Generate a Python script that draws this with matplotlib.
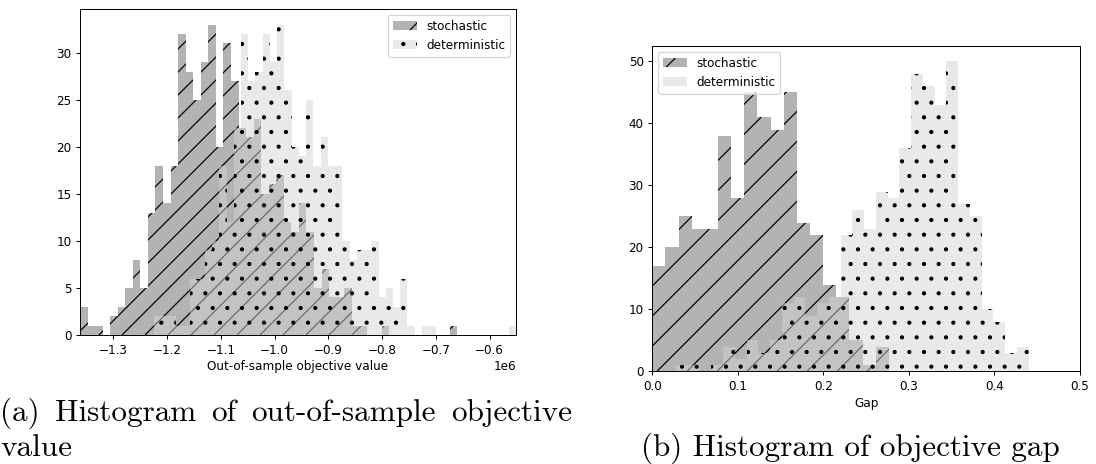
import numpy as np
import matplotlib
matplotlib.use("Agg")
import matplotlib.pyplot as plt
from matplotlib.patches import Patch
from matplotlib.collections import LineCollection

# ---------------- data ----------------
# (a) out-of-sample objective value
obj_stoch_range = (-1.362e6, -0.660e6)
obj_stoch_counts = [3, 1, 1, 0, 2, 3, 5, 8, 5, 13,
                    18, 14, 18, 32, 28, 25, 29, 33, 20, 31,
                    27, 22, 21, 23, 15, 16, 17, 12, 11, 14,
                    11, 5, 7, 4, 4, 5, 1, 1, 0, 0,
                    1, 0, 0, 0, 0, 0, 0, 0, 0, 1]
obj_det_range = (-1.224e6, -0.551e6)
obj_det_counts = [2, 2, 2, 1, 1, 6, 6, 9, 10, 18,
                  12, 22, 32, 27, 28, 32, 29, 33, 26, 20,
                  19, 25, 18, 21, 18, 18, 10, 8, 9, 9,
                  10, 4, 5, 3, 6, 1, 0, 1, 1, 0,
                  0, 0, 0, 0, 0, 0, 0, 0, 0, 1]

# (b) objective gap
gap_stoch_range = (0.0, 0.2765)
gap_stoch_counts = [17, 20, 25, 23, 23, 38, 28, 45, 41, 39,
                    45, 24, 22, 14, 12, 5, 1, 4]
gap_det_range = (0.0277, 0.440)
gap_det_counts = [1, 1, 0, 1, 4, 2, 5, 3, 5, 11,
                  12, 9, 11, 12, 22, 26, 23, 29, 28, 36,
                  48, 46, 43, 50, 27, 25, 10, 8, 3, 4]

series_labels = ["stochastic", "deterministic"]
xlabel_a = "Out-of-sample objective value"
xlabel_b = "Gap"
caption_a1 = ["(a)", "Histogram", "of", "out-of-sample", "objective"]
caption_a2 = "value"
caption_b = "(b) Histogram of objective gap"

# ---------------- style ----------------
W, H = 1096, 464
DPI = 88
plt.rcParams['font.family'] = ['DejaVu Sans']
plt.rcParams['font.size'] = 9.8
plt.rcParams['hatch.linewidth'] = 1.0

STOCH_FACE = '#b3b3b3'
DET_FACE = (0.83, 0.83, 0.83, 0.5)

fig = plt.figure(figsize=(W / DPI, H / DPI), dpi=DPI)


def edges(rng, counts):
    return np.linspace(rng[0], rng[1], len(counts) + 1)


def diagonal_hatch(ax, patch, spacing_px, ax_w_px, ax_h_px):
    """Sparse '/' hatching clipped to the histogram patch (style only)."""
    dx = ax_h_px / ax_w_px          # 45 degree lines in pixel space
    step = spacing_px / ax_w_px
    offs = np.arange(-dx, 1 + step, step)
    segs = [[(o, 0), (o + dx, 1)] for o in offs]
    lc = LineCollection(segs, colors='black', linewidths=1.0,
                        transform=ax.transAxes, zorder=1.5)
    ax.add_collection(lc)
    lc.set_clip_path(patch)


def draw(ax, s_rng, s_counts, d_rng, d_counts, spacing, ax_w, ax_h):
    se = edges(s_rng, s_counts)
    de = edges(d_rng, d_counts)
    _, _, sp = ax.hist(0.5 * (se[:-1] + se[1:]), bins=se, weights=s_counts,
                       histtype='stepfilled', facecolor=STOCH_FACE,
                       linewidth=0, zorder=1)
    diagonal_hatch(ax, sp[0], spacing, ax_w, ax_h)
    ax.hist(0.5 * (de[:-1] + de[1:]), bins=de, weights=d_counts,
            histtype='stepfilled', facecolor=DET_FACE, edgecolor='black',
            linewidth=0, hatch='.', zorder=2)


handles = [Patch(facecolor=STOCH_FACE, edgecolor='black', linewidth=0, hatch='/',
                 label=series_labels[0]),
           Patch(facecolor=DET_FACE, edgecolor='black', linewidth=0, hatch='.',
                 label=series_labels[1])]

# (a)
axa = fig.add_axes([80 / W, 1 - 335 / H, 436 / W, 326 / H])
draw(axa, obj_stoch_range, obj_stoch_counts, obj_det_range, obj_det_counts,
     23, 436, 326)
axa.set_xlim(obj_stoch_range[0], obj_det_range[1])
axa.set_ylim(0, 34.65)
axa.set_yticks([0, 5, 10, 15, 20, 25, 30])
axa.set_xticks(np.array([-1.3, -1.2, -1.1, -1.0, -0.9, -0.8, -0.7, -0.6]) * 1e6)
axa.set_xlabel(xlabel_a, labelpad=3)
axa.legend(handles=handles, loc='upper right', framealpha=0.8)

# (b)
axb = fig.add_axes([652.3 / W, 1 - 371.3 / H, 427.7 / W, 325.3 / H])
draw(axb, gap_stoch_range, gap_stoch_counts, gap_det_range, gap_det_counts,
     30, 427.7, 325.3)
axb.set_xlim(0, 0.5)
axb.set_ylim(0, 52.5)
axb.set_yticks([0, 10, 20, 30, 40, 50])
axb.set_xlabel(xlabel_b, labelpad=3)
axb.legend(handles=handles, loc='upper left', framealpha=0.8)

# captions (first line justified like LaTeX)
cap_font = dict(family='cmr10', fontsize=25.5, va='baseline', ha='left')
renderer = fig.canvas.get_renderer()
words = [fig.text(0, 1 - 421 / H, w, **cap_font) for w in caption_a1]
widths = [t.get_window_extent(renderer).width for t in words]
line_w = 572
gap = (line_w - sum(widths)) / (len(words) - 1)
x = 0
for t, wd in zip(words, widths):
    t.set_x(x / W)
    x += wd + gap
fig.text(0, 1 - 456 / H, caption_a2, **cap_font)
fig.text(641 / W, 1 - 456 / H, caption_b, **cap_font)

fig.savefig("out.png", dpi=DPI)
